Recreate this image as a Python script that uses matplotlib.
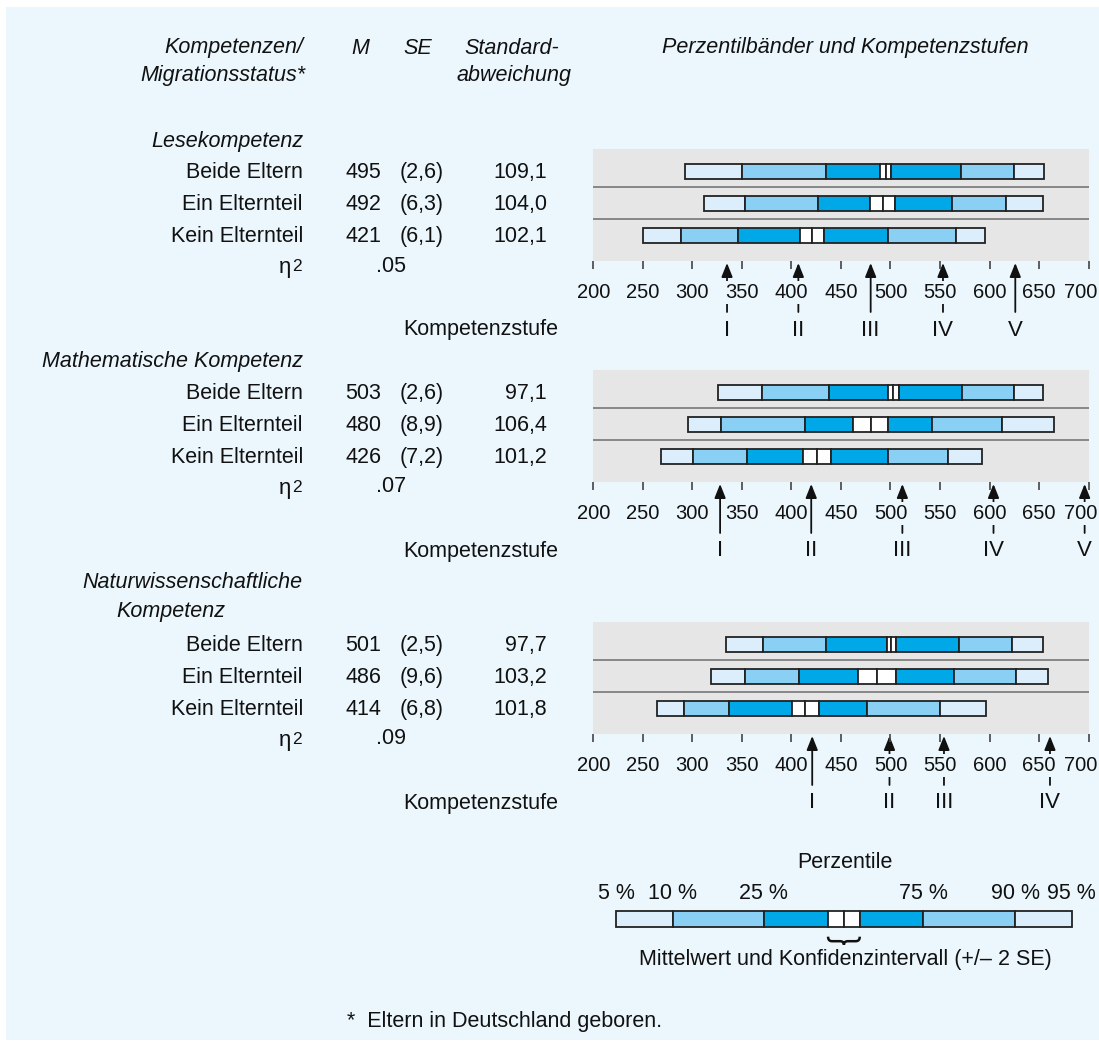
import matplotlib
matplotlib.use('Agg')
import matplotlib.pyplot as plt
from matplotlib.patches import Rectangle, PathPatch
from matplotlib.path import Path
from matplotlib.transforms import offset_copy

plt.rcParams['font.family'] = ['Liberation Sans', 'DejaVu Sans']
plt.rcParams['font.size'] = 15.5

# ---------------- data ----------------
groups = ['Beide Eltern', 'Ein Elternteil', 'Kein Elternteil']
domains = ['Lesekompetenz', 'Mathematische Kompetenz', 'Naturwissenschaftliche']

# percentiles 5, 10, 25, 75, 90, 95 per group
lese_pct = [[293, 350, 435, 571, 625, 655],
            [312, 353, 427, 562, 617, 654],
            [250, 289, 346, 497, 566, 595]]
lese_mean = [495, 492, 421]
lese_se = [2.6, 6.3, 6.1]
lese_sd = [109.1, 104.0, 102.1]
lese_eta = '.05'
lese_levels = [335, 407, 480, 553, 626]

mathe_pct = [[326, 370, 438, 572, 625, 654],
             [296, 329, 414, 542, 613, 665],
             [268, 301, 355, 497, 558, 592]]
mathe_mean = [503, 480, 426]
mathe_se = [2.6, 8.9, 7.2]
mathe_sd = [97.1, 106.4, 101.2]
mathe_eta = '.07'
mathe_levels = [328, 420, 512, 604, 696]

nawi_pct = [[334, 371, 435, 569, 623, 654],
            [319, 353, 408, 564, 627, 659],
            [264, 292, 337, 476, 550, 596]]
nawi_mean = [501, 486, 414]
nawi_se = [2.5, 9.6, 6.8]
nawi_sd = [97.7, 103.2, 101.8]
nawi_eta = '.09'
nawi_levels = [421, 499, 554, 661]

level_names = ['I', 'II', 'III', 'IV', 'V']
xticks = [200, 250, 300, 350, 400, 450, 500, 550, 600, 650, 700]

# legend example band (5, 10, 25, ci low, mean, ci high, 75, 90, 95)
legend_edges = [223, 280, 372, 437, 453, 469, 533, 626, 683]
legend_pct_labels = ['5 %', '10 %', '25 %', '75 %', '90 %', '95 %']

# ---------------- style ----------------
BG = '#EBF7FD'
GRAY = '#E6E6E6'
C_LIGHT = '#DCEEFB'
C_MID = '#8ACFF4'
C_DARK = '#00A8E8'
seg_colors = [C_LIGHT, C_MID, C_DARK, 'white', 'white', C_DARK, C_MID, C_LIGHT]
EDGE = '#222222'
TXT = '#111111'
TICK_FS = 14.5

W, H = 1099, 1041
X_LEFT, X_RIGHT = 593.3, 1088.6      # pixel position of 200 / 700
ROW = 32
panel_tops = [149, 370, 622]
PANEL_H = 3.5 * ROW

fig = plt.figure(figsize=(W / 100, H / 100), dpi=100, facecolor='white')
bg = fig.add_axes([0, 0, 1, 1])
bg.set_xlim(0, W)
bg.set_ylim(H, 0)
bg.axis('off')
bg.add_patch(Rectangle((6, 7), W - 6, H - 8, facecolor=BG, edgecolor='none'))


def fmt(v):
    return ('%.1f' % v).replace('.', ',')


def px_axes(left, top, width, height):
    return fig.add_axes([left / W, 1 - (top + height) / H, width / W, height / H])


# header
hdr = dict(style='italic', color=TXT, va='center')
bg.text(303, 48, 'Kompetenzen/', ha='right', **hdr)
bg.text(305, 76, 'Migrationsstatus*', ha='right', **hdr)
bg.text(360, 48, 'M', ha='center', **hdr)
bg.text(418, 48, 'SE', ha='center', **hdr)
bg.text(464, 48, 'Standard-', ha='left', **hdr)
bg.text(457, 76, 'abweichung', ha='left', **hdr)
bg.text(845, 48, 'Perzentilbänder und Kompetenzstufen', ha='center', **hdr)

panels = [
    (lese_pct, lese_mean, lese_se, lese_sd, lese_eta, lese_levels),
    (mathe_pct, mathe_mean, mathe_se, mathe_sd, mathe_eta, mathe_levels),
    (nawi_pct, nawi_mean, nawi_se, nawi_sd, nawi_eta, nawi_levels),
]

for p, (pct, mean, se, sd, eta, levels) in enumerate(panels):
    top = panel_tops[p]
    bottom = top + PANEL_H

    # left table
    if p == 2:
        bg.text(302, top - 39, domains[p], ha='right', va='center', style='italic', color=TXT)
        bg.text(171, top - 10, 'Kompetenz', ha='center', va='center', style='italic', color=TXT)
    else:
        bg.text(303, top - 8, domains[p], ha='right', va='center', style='italic', color=TXT)
    for i, g in enumerate(groups):
        y = top + (0.7 + i) * ROW + 1
        bg.text(303, y, g, ha='right', va='center', color=TXT)
        bg.text(363, y, '%d' % mean[i], ha='center', va='center', color=TXT)
        bg.text(422, y, '(' + fmt(se[i]) + ')', ha='center', va='center', color=TXT)
        bg.text(547, y, fmt(sd[i]), ha='right', va='center', color=TXT)
    # eta squared
    bg.text(291, bottom + 12, 'η', ha='right', va='baseline', color=TXT, fontsize=16)
    bg.text(292, bottom + 10, '2', ha='left', va='baseline', color=TXT, fontsize=12.5)
    bg.text(391, bottom + 5, eta, ha='center', va='center', color=TXT)
    bg.text(403, bottom + 69, 'Kompetenzstufe', ha='left', va='center', color=TXT)

    # band panel
    ax = px_axes(X_LEFT, top, X_RIGHT - X_LEFT, PANEL_H)
    ax.set_facecolor(GRAY)
    ax.set_xlim(200, 700)
    ax.set_ylim(2.8, -0.7)
    for s in ax.spines.values():
        s.set_visible(False)
    ax.set_yticks([])
    ax.set_xticks(xticks)
    # last label is drawn separately, pulled inwards to stay inside the picture
    ax.set_xticklabels([str(t) for t in xticks[:-1]] + [''])
    ax.tick_params(axis='x', direction='out', length=6, width=1.2, color='#444444',
                   pad=10, labelsize=TICK_FS, labelcolor=TXT)
    ax.set_axisbelow(False)
    label_box = dict(facecolor=BG, edgecolor='none', pad=1.5)
    for lbl in ax.get_xticklabels()[:-1]:
        lbl.set_bbox(label_box)
    last_tr = offset_copy(ax.get_xaxis_transform(), fig=fig, x=-6, y=-16, units='points')
    ax.text(xticks[-1], 0, str(xticks[-1]), transform=last_tr, ha='center', va='top',
            fontsize=TICK_FS, color=TXT, bbox=label_box, zorder=3)

    ax.axhline(0.5, color='#777777', lw=1.2, zorder=0.5)
    ax.axhline(1.5, color='#777777', lw=1.2, zorder=0.5)

    for i in range(3):
        edges = pct[i][:3] + [mean[i] - 2 * se[i], mean[i], mean[i] + 2 * se[i]] + pct[i][3:]
        lefts = edges[:-1]
        widths = [b - a for a, b in zip(edges[:-1], edges[1:])]
        ax.barh(i, widths, left=lefts, height=0.48, color=seg_colors,
                edgecolor=EDGE, linewidth=1.3, zorder=1)

    # competence level arrows
    tip = -2 / PANEL_H
    tail = -51 / PANEL_H
    for k, lv in enumerate(levels):
        ax.annotate('', xy=(lv, tip), xytext=(lv, tail),
                    xycoords=('data', 'axes fraction'), textcoords=('data', 'axes fraction'),
                    annotation_clip=False, zorder=2,
                    arrowprops=dict(arrowstyle='-|>,head_length=0.6,head_width=0.24',
                                    mutation_scale=14, lw=1.3, color=TXT,
                                    shrinkA=0, shrinkB=0))
        ax.text(lv, -69 / PANEL_H, level_names[k], transform=ax.get_xaxis_transform(),
                ha='center', va='center', color=TXT, fontsize=16)

# legend
LEG_TOP, LEG_H = 910.7, 16
axl = px_axes(X_LEFT, LEG_TOP, X_RIGHT - X_LEFT, LEG_H)
axl.set_xlim(200, 700)
axl.set_ylim(-0.5, 0.5)
axl.axis('off')
lw_ = [b - a for a, b in zip(legend_edges[:-1], legend_edges[1:])]
axl.barh(0, lw_, left=legend_edges[:-1], height=1.0, color=seg_colors,
         edgecolor=EDGE, linewidth=1.3, clip_on=False)
pct_pos = legend_edges[:3] + legend_edges[6:]
for xv, lab in zip(pct_pos, legend_pct_labels):
    axl.text(xv, 1 + 17 / LEG_H, lab, transform=axl.get_xaxis_transform(),
             ha='center', va='center', color=TXT)
bg.text(845, 863, 'Perzentile', ha='center', va='center', color=TXT)

# brace under the confidence interval
lo, mid, hi = legend_edges[3], legend_edges[4], legend_edges[5]
yt, ym, yb = -10 / LEG_H, -14.5 / LEG_H, -18 / LEG_H
verts = [(lo, yt), (lo, ym), (lo + 4, ym), (mid - 4, ym), (mid, ym), (mid, yb),
         (mid, ym), (mid + 4, ym), (hi - 4, ym), (hi, ym), (hi, yt)]
codes = [Path.MOVETO, Path.CURVE3, Path.CURVE3, Path.LINETO, Path.CURVE3, Path.CURVE3,
         Path.CURVE3, Path.CURVE3, Path.LINETO, Path.CURVE3, Path.CURVE3]
axl.add_patch(PathPatch(Path(verts, codes), facecolor='none', edgecolor=TXT, lw=1.8,
                        transform=axl.get_xaxis_transform(), clip_on=False))
bg.text(845, 960, 'Mittelwert und Konfidenzintervall (+/– 2 SE)', ha='center', va='center', color=TXT)

bg.text(347, 1022, '*  Eltern in Deutschland geboren.', ha='left', va='center', color=TXT)

fig.savefig('out.png', dpi=100, facecolor='white')
